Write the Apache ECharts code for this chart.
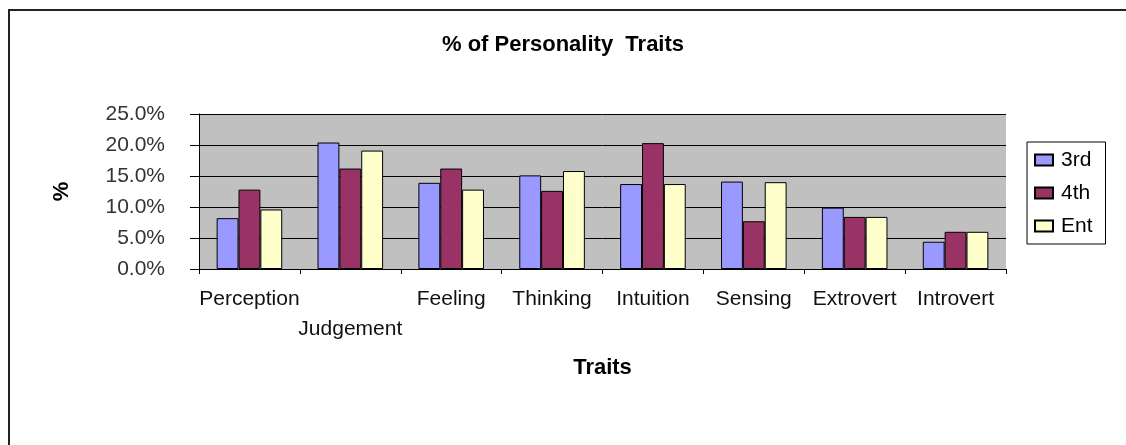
<!DOCTYPE html>
<html>
<head>
<meta charset="utf-8">
<script src="https://cdn.jsdelivr.net/npm/echarts@6/dist/echarts.min.js"></script>
<style>
  html, body { margin: 0; padding: 0; background: #fff; }
  .chart-content { position: relative; width: 1126px; height: 445px; }
  .frame {
    position: absolute; left: 8px; top: 9px; right: 0; bottom: 0;
    border-left: 2px solid #222; border-top: 2px solid #222;
  }
  #main { position: absolute; left: 0; top: 0; width: 1126px; height: 445px; }
</style>
</head>
<body>
<div class="chart-content">
  <div class="frame"></div>
  <div id="main"></div>
</div>
<script>
// categories and values (percent)
var traits = ['Perception', 'Judgement', 'Feeling', 'Thinking', 'Intuition', 'Sensing', 'Extrovert', 'Introvert']
var third = [8.2, 20.4, 13.9, 15.1, 13.7, 14.1, 9.9, 4.4]
var fourth = [12.8, 16.2, 16.2, 12.6, 20.3, 7.7, 8.4, 6.0]
var ent = [9.6, 19.1, 12.8, 15.8, 13.7, 14.0, 8.4, 6.0]
// labels that drop to a second line, as in the original
var dropped = ['Judgement']

var font = 'Liberation Sans, Arial, sans-serif'

function bar(name, data, color) {
  return {
    name: name,
    type: 'bar',
    data: data,
    barGap: '0%',
    barCategoryGap: '35%',
    itemStyle: { color: color, borderColor: '#000', borderWidth: 1 }
  }
}

var myChart = echarts.init(document.getElementById('main'))
myChart.setOption({
  animation: false,
  textStyle: { fontFamily: font },
  title: {
    text: '% of Personality  Traits',
    left: 'center',
    top: 29,
    textStyle: { fontSize: 22, fontWeight: 'bold', color: '#000', fontFamily: font }
  },
  legend: {
    orient: 'vertical',
    left: 1027,
    top: 142,
    padding: [7, 13, 7, 7],
    itemGap: 11,
    itemWidth: 18,
    itemHeight: 11,
    icon: 'rect',
    borderColor: '#000',
    borderWidth: 1,
    backgroundColor: '#fff',
    textStyle: { fontSize: 21, color: '#000', lineHeight: 22, padding: [0, 0, 0, 3], fontFamily: font }
  },
  grid: {
    left: 199,
    top: 114,
    width: 807,
    height: 155,
    show: true,
    backgroundColor: '#c0c0c0',
    borderWidth: 0
  },
  xAxis: {
    type: 'category',
    data: traits,
    name: 'Traits',
    nameLocation: 'middle',
    nameGap: 88,
    nameTextStyle: { fontSize: 22, fontWeight: 'bold', color: '#000' },
    axisLine: { lineStyle: { color: '#000', width: 1 } },
    axisTick: { show: true, length: 5, lineStyle: { color: '#000' } },
    axisLabel: {
      interval: 0,
      margin: 15,
      fontSize: 21,
      lineHeight: 30,
      color: '#111',
      formatter: function (v) {
        return dropped.indexOf(v) >= 0 ? '\n' + v : v
      }
    }
  },
  yAxis: {
    type: 'value',
    min: 0,
    max: 25,
    interval: 5,
    name: '%',
    nameLocation: 'middle',
    nameRotate: 90,
    nameGap: 126,
    nameTextStyle: { fontSize: 22, fontWeight: 'bold', color: '#000' },
    axisLine: { show: true, lineStyle: { color: '#000', width: 1 } },
    axisTick: { show: true, length: 9, lineStyle: { color: '#000' } },
    axisLabel: {
      margin: 34,
      fontSize: 21,
      color: '#333',
      formatter: function (v) { return v.toFixed(1) + '%' }
    },
    splitLine: { lineStyle: { color: '#000', width: 1 } }
  },
  series: [
    bar('3rd', third, '#9999ff'),
    bar('4th', fourth, '#993366'),
    bar('Ent', ent, '#ffffcc')
  ]
})
</script>
</body>
</html>
